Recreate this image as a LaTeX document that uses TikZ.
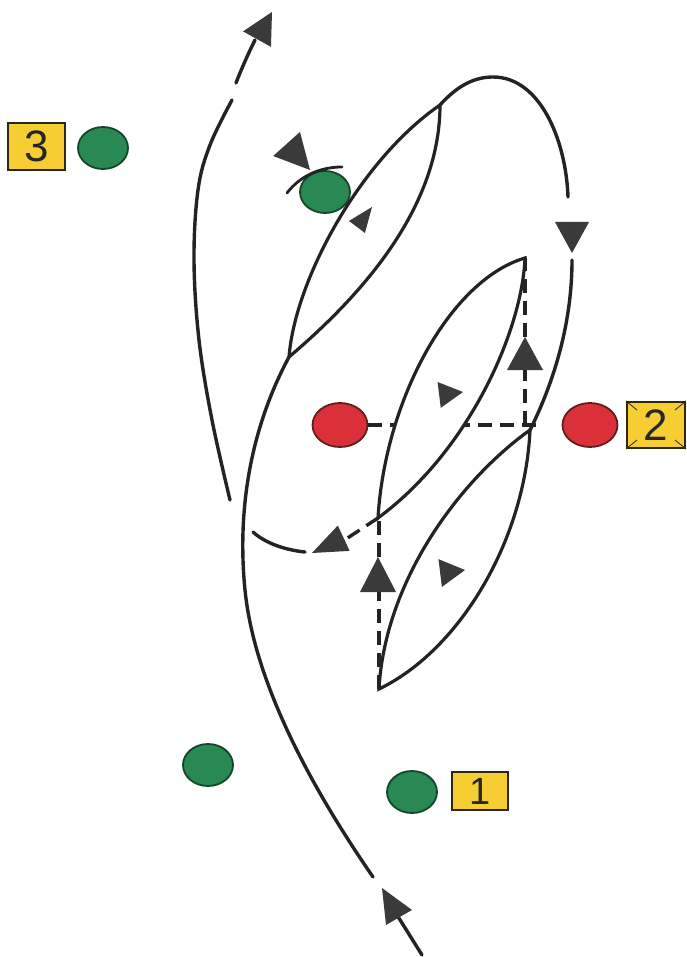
\documentclass[tikz,border=0pt]{standalone}
\usepackage{fontspec}
\setmainfont{Liberation Sans}
\usetikzlibrary{shapes.geometric}
\definecolor{ink}{RGB}{35,35,35}
\definecolor{headc}{RGB}{58,58,58}
\definecolor{gfill}{RGB}{40,138,82}
\definecolor{gline}{RGB}{22,70,42}
\definecolor{rfill}{RGB}{218,48,58}
\definecolor{rline}{RGB}{95,30,30}
\definecolor{yfill}{RGB}{246,206,52}
\definecolor{yline}{RGB}{45,40,20}
\newcommand\ahead[4]{\fill[headc, shift={(#1)}, rotate=#2] (0,0) -- (-#3,#4) -- (-#3,-#4) -- cycle;}
\tikzset{
  run/.style={ink, line width=3.4pt, line cap=round},
  pass/.style={ink, line width=3.4pt, dash pattern=on 14pt off 8pt},
  lens/.style={ink, line width=3.2pt, fill=white, line join=miter},
  gdot/.style={ellipse, draw=gline, fill=gfill, line width=1.8pt, minimum width=50pt, minimum height=42pt, inner sep=0pt},
  rdot/.style={ellipse, draw=rline, fill=rfill, line width=1.8pt, minimum width=55pt, minimum height=44pt, inner sep=0pt},
  numbox/.style={draw=yline, fill=yfill, line width=2pt, inner sep=0pt, text=black!85, font=\fontsize{44}{44}\selectfont}
}
\begin{document}
\begin{tikzpicture}[x=1pt,y=-1pt]
\useasboundingbox (0,0) rectangle (686,957);
\fill[white] (0,0) rectangle (686,957);

% players
\node[gdot] (g3) at (103,148) {};
\node[gdot] (gt) at (325,192) {};
\node[gdot] (gl) at (208,765) {};
\node[gdot] (g1) at (412,792) {};
\node[rdot] (r1) at (340,425) {};
\node[rdot] (r2) at (590,425) {};
\node[numbox, minimum width=57pt, minimum height=47pt] (b3) at (36.5,146.5) {3};
\node[numbox, minimum width=56pt, minimum height=38pt, font=\fontsize{38}{38}\selectfont] (b1) at (480,791) {1};
\node[numbox, minimum width=58pt, minimum height=46pt] (b2) at (656,425) {};
\draw[yline, line width=0.8pt] (b2.north west) -- ++(11,9) (b2.north east) -- ++(-11,9)
  (b2.south west) -- ++(11,-9) (b2.south east) -- ++(-11,-9);
\node[text=black!85, font=\fontsize{44}{44}\selectfont, inner sep=0pt] at (b2) {2};

% key points
\coordinate (tA) at (289,357);   % top lens bottom
\coordinate (tB) at (440,105);   % top lens top
\coordinate (mC) at (525,258);   % middle lens top
\coordinate (mD) at (378,518);   % middle lens bottom
\coordinate (lE) at (530,430);   % lower lens top
\coordinate (lF) at (379,689);   % lower lens bottom
\coordinate (J) at (525,425);
\coordinate (lowtop) at (379,518);
\coordinate (passend) at (343,541);

% passes (dashed)
\draw[pass, shorten >=18pt] (r1) -- (r2);
\draw[pass] (J) -- (mC);
\draw[pass] (lF) -- (lowtop);
\draw[pass] (mD) -- (passend);

% lenses
\draw[lens] (tA) .. controls (295,280) and (360,160) .. (tB)
            .. controls (440,215) and (350,305) .. (tA) -- cycle;
\draw[lens] (mC) .. controls (450,280) and (385,400) .. (mD)
            .. controls (470,450) and (522,330) .. (mC) -- cycle;
\draw[lens] (lE) .. controls (460,480) and (385,580) .. (lF)
            .. controls (460,650) and (525,540) .. (lE) -- cycle;

% runs
\draw[run] (tB) .. controls (458,85) and (475,77) .. (493,77)
           .. controls (540,77) and (566,140) .. (568,197);
\draw[run] (572,260) .. controls (572,330) and (550,390) .. (lE);
\draw[run] (422,955) -- (397,915);
\draw[run] (tA) .. controls (255,420) and (236,500) .. (245,590)
           .. controls (255,690) and (320,800) .. (373,877);
\draw[run] (305,552) .. controls (285,550) and (265,543) .. (253,532);
\draw[run] plot[smooth, tension=0.6] coordinates {(230,500) (212,420) (199,340) (194,260) (198,190) (210,145) (232,100)};
\draw[run] (236,83) .. controls (241,70) and (248,54) .. (255,40);

% blocked-pass mark on green player
\draw[ink, line width=2.8pt, line cap=round] (287,193) .. controls (300,176) and (320,167) .. (342,167);

% arrowheads
\ahead{382,888}{120}{34}{15}
\ahead{272,12}{61}{31}{16}
\ahead{572,253}{-90}{31}{17}
\ahead{525,337}{90}{33}{18}
\ahead{378,557}{90}{35}{18}
\ahead{312,553}{-155}{35}{14}
\ahead{372,207}{53}{25}{10}
\ahead{463,392}{7}{24}{13}
\ahead{465,570}{7}{25}{14}
\ahead{310,170}{-48}{35}{18}
\end{tikzpicture}
\end{document}
